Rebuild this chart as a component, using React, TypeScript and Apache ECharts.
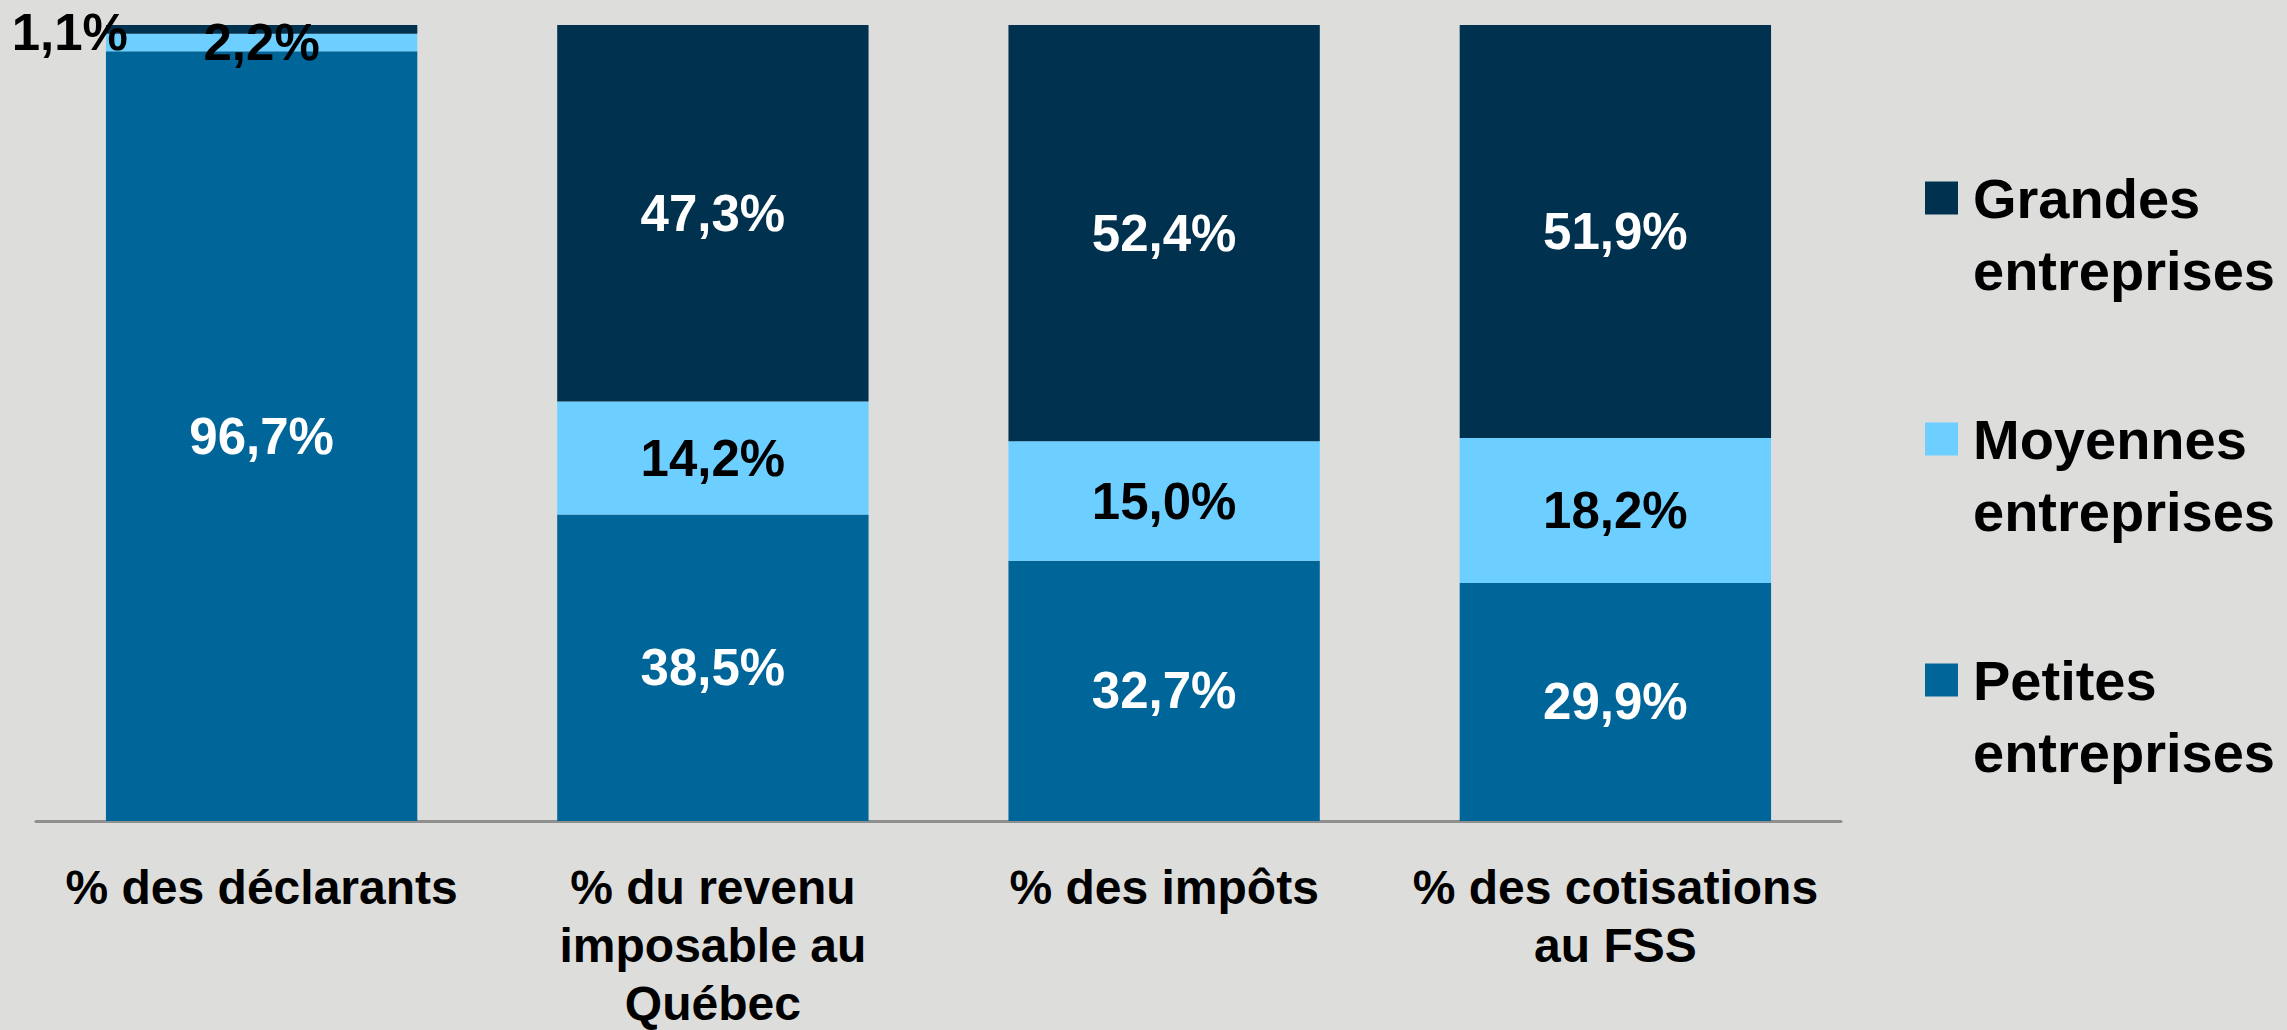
import React, { useEffect, useRef } from "react";
import * as echarts from "echarts";

const categories = [
  "% des déclarants",
  "% du revenu\nimposable au\nQuébec",
  "% des impôts",
  "% des cotisations\nau FSS",
];
const petites = [96.7, 38.5, 32.7, 29.9];
const moyennes = [2.2, 14.2, 15.0, 18.2];
const grandes = [1.1, 47.3, 52.4, 51.9];
const seriesNames = ["Petites entreprises", "Moyennes entreprises", "Grandes entreprises"];
const legendOrder = ["Grandes entreprises", "Moyennes entreprises", "Petites entreprises"];
const legendLabels: Record<string, string> = {
  "Grandes entreprises": "Grandes\nentreprises",
  "Moyennes entreprises": "Moyennes\nentreprises",
  "Petites entreprises": "Petites\nentreprises",
};

const BG = "#DDDDDB";
const C_PETITES = "#006699";
const C_MOYENNES = "#6DCFFF";
const C_GRANDES = "#00324F";

const fmt = (v: number) => v.toFixed(1).replace(".", ",") + "%";

export default function App() {
  const ref = useRef<HTMLDivElement>(null);
  useEffect(() => {
    document.body.style.margin = "0";
    document.body.style.background = BG;
    const chart = echarts.init(ref.current!, null, { renderer: "svg" });
    const labelBase = {
      show: true,
      position: "inside" as const,
      fontFamily: "Liberation Sans, Arial, sans-serif",
      fontWeight: "bold" as const,
      fontSize: 51,
      formatter: (p: any) => fmt(p.value as number),
    };
    chart.setOption({
      animation: false,
      backgroundColor: BG,
      grid: {
        left: 36,
        right: 446,
        top: 25,
        bottom: 209,
        containLabel: false,
        outerBoundsMode: "none",
      },
      legend: {
        orient: "vertical",
        left: 1925,
        top: 90,
        padding: 0,
        itemWidth: 33,
        itemHeight: 33,
        itemGap: 25,
        icon: "rect",
        data: legendOrder,
        // leading empty line keeps the icon level with the first text line
        formatter: (n: string) => "\n" + (legendLabels[n] || n),
        textStyle: {
          fontFamily: "Liberation Sans, Arial, sans-serif",
          fontWeight: "bold",
          fontSize: 56,
          lineHeight: 72,
          color: "#000",
          padding: [0, 0, 0, 10],
        },
      },
      xAxis: {
        type: "category",
        data: categories,
        axisTick: { show: false },
        axisLine: { lineStyle: { color: "#8F8F8F", width: 3 } },
        axisLabel: {
          interval: 0,
          margin: 37,
          color: "#000",
          fontFamily: "Liberation Sans, Arial, sans-serif",
          fontWeight: "bold",
          fontSize: 48,
          lineHeight: 58,
        },
      },
      yAxis: {
        type: "value",
        min: 0,
        max: 100,
        show: false,
        splitLine: { show: false },
      },
      series: [
        {
          name: seriesNames[0],
          type: "bar",
          stack: "total",
          barCategoryGap: "31%",
          itemStyle: { color: C_PETITES },
          label: { ...labelBase, color: "#fff" },
          data: petites,
        },
        {
          name: seriesNames[1],
          type: "bar",
          stack: "total",
          barCategoryGap: "31%",
          itemStyle: { color: C_MOYENNES },
          label: { ...labelBase, color: "#000" },
          data: moyennes,
        },
        {
          name: seriesNames[2],
          type: "bar",
          stack: "total",
          barCategoryGap: "31%",
          itemStyle: { color: C_GRANDES },
          label: { ...labelBase, color: "#fff" },
          data: grandes.map((v, i) =>
            i === 0
              ? {
                  value: v,
                  label: {
                    position: "left",
                    distance: 5,
                    offset: [27, 3],
                    color: "#000",
                  },
                }
              : v
          ),
        },
      ],
    });
    return () => chart.dispose();
  }, []);
  return (
    <div
      ref={ref}
      style={{ position: "absolute", left: 0, top: 0, width: 2287, height: 1030 }}
    />
  );
}
